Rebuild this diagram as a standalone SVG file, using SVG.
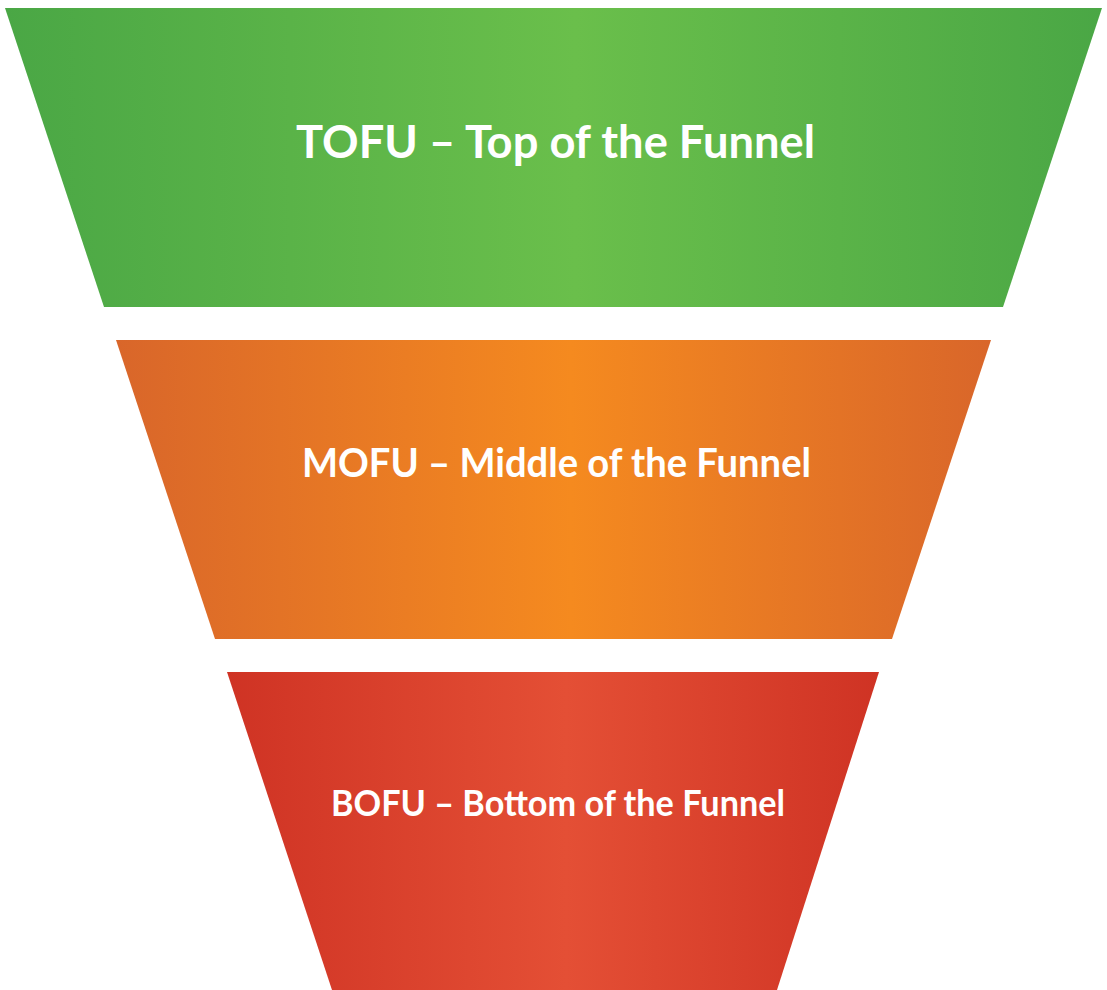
<svg xmlns="http://www.w3.org/2000/svg" width="1107" height="990" viewBox="0 0 1107 990">
  <defs>
    <linearGradient id="gGreen" x1="0" y1="0" x2="1" y2="0">
      <stop offset="0" stop-color="#4aa745"/>
      <stop offset="0.52" stop-color="#6abf4b"/>
      <stop offset="1" stop-color="#4aa745"/>
    </linearGradient>
    <linearGradient id="gOrange" x1="0" y1="0" x2="1" y2="0">
      <stop offset="0" stop-color="#d9662a"/>
      <stop offset="0.52" stop-color="#f58a1f"/>
      <stop offset="1" stop-color="#d9662a"/>
    </linearGradient>
    <linearGradient id="gRed" x1="0" y1="0" x2="1" y2="0">
      <stop offset="0" stop-color="#cf3324"/>
      <stop offset="0.52" stop-color="#e44f35"/>
      <stop offset="1" stop-color="#cf3324"/>
    </linearGradient>
  </defs>
  <style>
    .lbl { font-family: Lato, "Open Sans", "Liberation Sans", sans-serif; font-weight: bold; fill: #ffffff; }
  </style>
  <rect width="1107" height="990" fill="#ffffff"/>
  <g id="tofu">
    <polygon points="5,8 1102,8 1003,307 104,307" fill="url(#gGreen)"/>
    <text class="lbl" x="296" y="158" font-size="46" textLength="519" lengthAdjust="spacingAndGlyphs">TOFU – Top of the Funnel</text>
  </g>
  <g id="mofu">
    <polygon points="116,340 991,340 892,639 215,639" fill="url(#gOrange)"/>
    <text class="lbl" x="302" y="477" font-size="40" textLength="509" lengthAdjust="spacingAndGlyphs">MOFU – Middle of the Funnel</text>
  </g>
  <g id="bofu">
    <polygon points="227,672 879,672 777,990 332,990" fill="url(#gRed)"/>
    <text class="lbl" x="331" y="816" font-size="36" textLength="454" lengthAdjust="spacingAndGlyphs">BOFU – Bottom of the Funnel</text>
  </g>
  <g id="connectors"/>
</svg>
